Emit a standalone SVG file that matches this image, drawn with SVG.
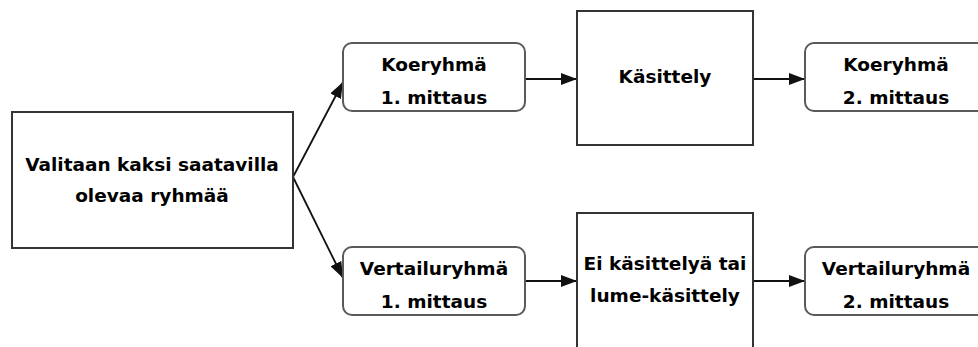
<svg xmlns="http://www.w3.org/2000/svg" width="978" height="347" viewBox="0 0 978 347">
  <style>
    .box { fill: #ffffff; stroke: #333333; stroke-width: 2; }
    .rbox { fill: #ffffff; stroke: #5a5a5a; stroke-width: 2; }
    .lbl { font-family: "DejaVu Sans", Verdana, sans-serif; font-weight: bold; font-size: 18.5px; fill: #000000; text-anchor: middle; }
    .conn { stroke: #111111; stroke-width: 1.8; fill: none; marker-end: url(#arrow); }
  </style>
  <defs>
    <marker id="arrow" viewBox="0 0 16 12" markerWidth="16" markerHeight="12" refX="16" refY="6" markerUnits="userSpaceOnUse" orient="auto">
      <path d="M0,0 L16,6 L0,12 z" fill="#111111"/>
    </marker>
  </defs>
  <rect width="978" height="347" fill="#ffffff"/>

  <g id="connectors">
    <line class="conn" x1="293" y1="177" x2="343" y2="82"/>
    <line class="conn" x1="293" y1="177" x2="343" y2="278"/>
    <line class="conn" x1="525" y1="79" x2="577" y2="79"/>
    <line class="conn" x1="753" y1="79" x2="805" y2="79"/>
    <line class="conn" x1="525" y1="281" x2="577" y2="281"/>
    <line class="conn" x1="753" y1="281" x2="805" y2="281"/>
  </g>

  <g id="start">
    <rect class="box" x="12" y="112" width="281" height="136"/>
    <text class="lbl" x="152" y="171">Valitaan kaksi saatavilla</text>
    <text class="lbl" x="152" y="202">olevaa ryhmää</text>
  </g>

  <g id="koe1">
    <rect class="rbox" x="343" y="43" width="182" height="68" rx="9"/>
    <text class="lbl" x="434" y="71">Koeryhmä</text>
    <text class="lbl" x="434" y="104">1. mittaus</text>
  </g>

  <g id="kasittely">
    <rect class="box" x="577" y="11" width="176" height="134"/>
    <text class="lbl" x="665" y="83">Käsittely</text>
  </g>

  <g id="koe2">
    <rect class="rbox" x="805" y="43" width="182" height="68" rx="9"/>
    <text class="lbl" x="896" y="71">Koeryhmä</text>
    <text class="lbl" x="896" y="104">2. mittaus</text>
  </g>

  <g id="vert1">
    <rect class="rbox" x="343" y="247" width="182" height="68" rx="9"/>
    <text class="lbl" x="434" y="275">Vertailuryhmä</text>
    <text class="lbl" x="434" y="308">1. mittaus</text>
  </g>

  <g id="eikasittely">
    <rect class="box" x="577" y="213" width="176" height="150"/>
    <text class="lbl" x="665" y="270">Ei käsittelyä tai</text>
    <text class="lbl" x="665" y="302">lume-käsittely</text>
  </g>

  <g id="vert2">
    <rect class="rbox" x="805" y="247" width="182" height="68" rx="9"/>
    <text class="lbl" x="896" y="275">Vertailuryhmä</text>
    <text class="lbl" x="896" y="308">2. mittaus</text>
  </g>
</svg>
